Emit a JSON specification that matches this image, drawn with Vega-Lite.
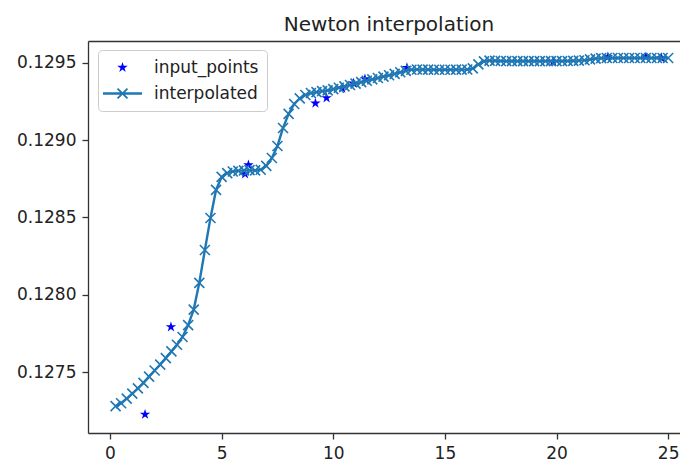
{
  "$schema": "https://vega.github.io/schema/vega-lite/v6.json",
  "autosize": {"type": "none"},
  "padding": {"left": 88, "top": 41, "right": 0, "bottom": 34},
  "width": 592,
  "height": 392,
  "background": "#ffffff",
  "title": {
    "text": "Newton interpolation",
    "font": "DejaVu Sans",
    "fontSize": 20,
    "fontWeight": "normal",
    "color": "#222222",
    "anchor": "middle",
    "frame": "group",
    "baseline": "alphabetic",
    "offset": -10,
    "dx": 5
  },
  "datasets": {
    "input_points": [
      {"x": 1.57, "y": 0.127228},
      {"x": 2.73, "y": 0.127793},
      {"x": 6.05, "y": 0.128781},
      {"x": 6.2, "y": 0.128839},
      {"x": 9.2, "y": 0.129238},
      {"x": 9.7, "y": 0.129272},
      {"x": 10.4, "y": 0.129335},
      {"x": 10.9, "y": 0.129367},
      {"x": 11.42, "y": 0.129395},
      {"x": 13.3, "y": 0.129468},
      {"x": 19.85, "y": 0.129508},
      {"x": 22.3, "y": 0.129537},
      {"x": 24.0, "y": 0.129537},
      {"x": 24.7, "y": 0.12953}
    ],
    "interpolated": [
      {"x": 0.25, "y": 0.127282}, {"x": 0.5, "y": 0.1273}, {"x": 0.75, "y": 0.12733}, {"x": 1.0, "y": 0.127362},
      {"x": 1.25, "y": 0.127396}, {"x": 1.5, "y": 0.127432}, {"x": 1.75, "y": 0.127472}, {"x": 2.0, "y": 0.127512},
      {"x": 2.25, "y": 0.12755}, {"x": 2.5, "y": 0.127592}, {"x": 2.75, "y": 0.127635}, {"x": 3.0, "y": 0.127678},
      {"x": 3.25, "y": 0.127728}, {"x": 3.5, "y": 0.127805}, {"x": 3.75, "y": 0.127905}, {"x": 4.0, "y": 0.128078},
      {"x": 4.25, "y": 0.12829}, {"x": 4.5, "y": 0.128497}, {"x": 4.75, "y": 0.128678}, {"x": 5.0, "y": 0.128762},
      {"x": 5.25, "y": 0.128787}, {"x": 5.5, "y": 0.128797}, {"x": 5.75, "y": 0.128801}, {"x": 6.0, "y": 0.128804},
      {"x": 6.25, "y": 0.128806}, {"x": 6.5, "y": 0.128804}, {"x": 6.75, "y": 0.128808}, {"x": 7.0, "y": 0.128833},
      {"x": 7.25, "y": 0.128884}, {"x": 7.5, "y": 0.128962}, {"x": 7.75, "y": 0.129078}, {"x": 8.0, "y": 0.129169},
      {"x": 8.25, "y": 0.129233}, {"x": 8.5, "y": 0.129269}, {"x": 8.75, "y": 0.129291}, {"x": 9.0, "y": 0.129304},
      {"x": 9.25, "y": 0.12931}, {"x": 9.5, "y": 0.129316}, {"x": 9.75, "y": 0.129321}, {"x": 10.0, "y": 0.129329},
      {"x": 10.25, "y": 0.129338}, {"x": 10.5, "y": 0.129347}, {"x": 10.75, "y": 0.129356}, {"x": 11.0, "y": 0.129365},
      {"x": 11.25, "y": 0.129374}, {"x": 11.5, "y": 0.129383}, {"x": 11.75, "y": 0.129392}, {"x": 12.0, "y": 0.129401},
      {"x": 12.25, "y": 0.12941}, {"x": 12.5, "y": 0.129419}, {"x": 12.75, "y": 0.129428}, {"x": 13.0, "y": 0.129438},
      {"x": 13.25, "y": 0.129447}, {"x": 13.5, "y": 0.129454}, {"x": 13.75, "y": 0.129456}, {"x": 14.0, "y": 0.129455},
      {"x": 14.25, "y": 0.129455}, {"x": 14.5, "y": 0.129454}, {"x": 14.75, "y": 0.129454}, {"x": 15.0, "y": 0.129454},
      {"x": 15.25, "y": 0.129454}, {"x": 15.5, "y": 0.129455}, {"x": 15.75, "y": 0.129455}, {"x": 16.0, "y": 0.129456},
      {"x": 16.25, "y": 0.129463}, {"x": 16.5, "y": 0.129489}, {"x": 16.75, "y": 0.129508}, {"x": 17.0, "y": 0.129513},
      {"x": 17.25, "y": 0.129512}, {"x": 17.5, "y": 0.129511}, {"x": 17.75, "y": 0.12951}, {"x": 18.0, "y": 0.12951},
      {"x": 18.25, "y": 0.12951}, {"x": 18.5, "y": 0.12951}, {"x": 18.75, "y": 0.12951}, {"x": 19.0, "y": 0.12951},
      {"x": 19.25, "y": 0.12951}, {"x": 19.5, "y": 0.12951}, {"x": 19.75, "y": 0.12951}, {"x": 20.0, "y": 0.12951},
      {"x": 20.25, "y": 0.12951}, {"x": 20.5, "y": 0.129511}, {"x": 20.75, "y": 0.129512}, {"x": 21.0, "y": 0.129513},
      {"x": 21.25, "y": 0.129516}, {"x": 21.5, "y": 0.129521}, {"x": 21.75, "y": 0.129526}, {"x": 22.0, "y": 0.129529},
      {"x": 22.25, "y": 0.12953}, {"x": 22.5, "y": 0.12953}, {"x": 22.75, "y": 0.12953}, {"x": 23.0, "y": 0.12953},
      {"x": 23.25, "y": 0.12953}, {"x": 23.5, "y": 0.12953}, {"x": 23.75, "y": 0.12953}, {"x": 24.0, "y": 0.12953},
      {"x": 24.25, "y": 0.12953}, {"x": 24.5, "y": 0.12953}, {"x": 24.75, "y": 0.12953}, {"x": 25.0, "y": 0.12953}
    ]
  },
  "layer": [
    {
      "data": {"name": "input_points"},
      "mark": {"type": "point", "filled": true, "opacity": 1, "size": 289},
      "encoding": {
        "x": {
          "field": "x", "type": "quantitative",
          "scale": {"domain": [-0.985, 25.53], "nice": false, "zero": false},
          "axis": {"orient": "bottom", "values": [0, 5, 10, 15, 20, 25], "labelFlush": false, "labelOverlap": false}
        },
        "y": {
          "field": "y", "type": "quantitative",
          "scale": {"domain": [0.127108, 0.12964], "nice": false, "zero": false},
          "axis": {"orient": "left", "values": [0.1275, 0.128, 0.1285, 0.129, 0.1295], "format": ".4f", "labelFlush": false, "labelOverlap": false}
        },
        "color": {
          "datum": "input_points", "type": "nominal",
          "scale": {"domain": ["input_points", "interpolated"], "range": ["#0000ff", "#1f77b4"]},
          "legend": {
            "title": null,
            "orient": "none",
            "legendX": 10,
            "legendY": 9,
            "padding": 8,
            "rowPadding": 8,
            "symbolSize": 289,
            "symbolOffset": 7,
            "symbolOpacity": 1,
            "labelOffset": 22,
            "labelFont": "DejaVu Sans",
            "labelFontSize": 17,
            "labelColor": "#222222",
            "fillColor": "rgba(255,255,255,0.8)",
            "strokeColor": "#cccccc",
            "cornerRadius": 4
          }
        },
        "shape": {
          "datum": "input_points", "type": "nominal",
          "scale": {
            "domain": ["input_points", "interpolated"],
            "range": [
              "M0,-0.6474L0.1453,-0.2001L0.6157,-0.2001L0.235,0.0764L0.3807,0.5237L0,0.2473L-0.3807,0.5237L-0.235,0.0764L-0.6157,-0.2001L-0.1453,-0.2001Z",
              "M-2.2976,-0.1404L2.2976,-0.1404L2.2976,0.1404L-2.2976,0.1404ZM-0.5062,-0.6608L0.6608,0.5062L0.5062,0.6608L-0.6608,-0.5062ZM-0.6608,0.5062L0.5062,-0.6608L0.6608,-0.5062L-0.5062,0.6608Z"
            ]
          },
          "legend": {
            "title": null,
            "orient": "none",
            "legendX": 10,
            "legendY": 9,
            "padding": 8,
            "rowPadding": 8,
            "symbolSize": 289,
            "symbolOffset": 7,
            "symbolOpacity": 1,
            "labelOffset": 22,
            "labelFont": "DejaVu Sans",
            "labelFontSize": 17,
            "labelColor": "#222222",
            "fillColor": "rgba(255,255,255,0.8)",
            "strokeColor": "#cccccc",
            "cornerRadius": 4
          }
        }
      }
    },
    {
      "data": {"name": "interpolated"},
      "mark": {"type": "line", "color": "#1f77b4", "strokeWidth": 2.4},
      "encoding": {
        "x": {"field": "x", "type": "quantitative", "scale": {"domain": [-0.985, 25.53], "nice": false, "zero": false},
              "axis": {"orient": "top", "labels": false, "ticks": false, "domain": true, "grid": false, "title": null}},
        "y": {"field": "y", "type": "quantitative"}
      }
    },
    {
      "data": {"name": "interpolated"},
      "mark": {
        "type": "point",
        "filled": false,
        "opacity": 1,
        "size": 100,
        "color": "#1f77b4",
        "strokeWidth": 1.6,
        "shape": "M-1,-1L1,1M-1,1L1,-1"
      },
      "encoding": {
        "x": {"field": "x", "type": "quantitative", "scale": {"domain": [-0.985, 25.53], "nice": false, "zero": false}, "axis": null},
        "y": {"field": "y", "type": "quantitative"}
      }
    }
  ],
  "resolve": {"axis": {"x": "independent"}},
  "config": {
    "view": {"stroke": null},
    "axis": {
      "labelFont": "DejaVu Sans",
      "labelFontSize": 17,
      "labelColor": "#222222",
      "tickColor": "#333333",
      "domainColor": "#333333",
      "tickSize": 6,
      "tickWidth": 1.3,
      "domainWidth": 1.3,
      "labelPadding": 6,
      "grid": false,
      "title": null
    }
  }
}
